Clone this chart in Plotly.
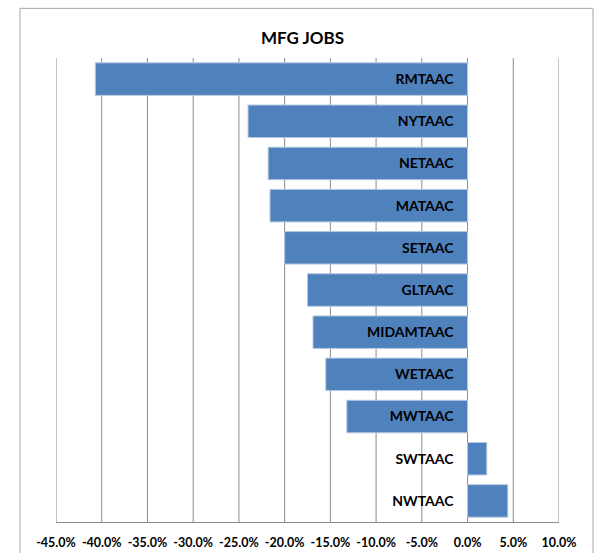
import plotly.graph_objects as go

# Manufacturing jobs change by TAAC region (percent)
regions = ["RMTAAC", "NYTAAC", "NETAAC", "MATAAC", "SETAAC", "GLTAAC",
           "MIDAMTAAC", "WETAAC", "MWTAAC", "SWTAAC", "NWTAAC"]
changes = [-40.7, -24.0, -21.8, -21.6, -20.0, -17.5, -16.9, -15.5, -13.2, 2.1, 4.4]

x_ticks = [-45, -40, -35, -30, -25, -20, -15, -10, -5, 0, 5, 10]
x_tick_labels = [f"{v:.1f}%" for v in x_ticks]

FONT = "Lato"
GRID = "#8C8C8C"
HEIGHT = 553

x_min, x_max = -45, 10

fig = go.Figure(
    go.Bar(
        x=changes,
        y=regions,
        orientation="h",
        marker=dict(color="#4F81BD", line=dict(color="#B4C8E2", width=1)),
        hoverinfo="x+y",
    )
)

# vertical gridlines at every tick, including both ends of the range
grid_shapes = [
    dict(
        type="line",
        xref="x",
        yref="paper",
        x0=v,
        x1=v,
        y0=0,
        y1=1,
        line=dict(color=GRID, width=1),
        layer="below",
    )
    for v in x_ticks
]

frame = dict(
    type="rect",
    xref="paper",
    yref="paper",
    x0=-0.0716,
    x1=1.0676,
    y0=-0.12,
    y1=1.107,
    line=dict(color="#A6A6A6", width=1),
    fillcolor="rgba(0,0,0,0)",
    layer="below",
)

fig.update_layout(
    width=597,
    height=HEIGHT,
    margin=dict(l=56, r=38, t=58, b=31),
    paper_bgcolor="white",
    plot_bgcolor="white",
    showlegend=False,
    bargap=0.23,
    title=dict(
        text="MFG JOBS",
        x=0.49,
        xref="paper",
        xanchor="center",
        y=1 - 38 / HEIGHT,
        yref="container",
        yanchor="middle",
        font=dict(family=FONT, size=17, color="black", weight="bold"),
    ),
    xaxis=dict(
        range=[x_min, x_max],
        tickvals=x_ticks,
        ticktext=x_tick_labels,
        tickangle=0,
        automargin=False,
        showgrid=False,
        zeroline=False,
        showline=True,
        linecolor=GRID,
        linewidth=1,
        ticks="",
        ticklabelstandoff=9,
        tickfont=dict(family=FONT, size=12.5, color="black", weight="bold"),
        fixedrange=True,
    ),
    yaxis=dict(
        categoryorder="array",
        categoryarray=regions,
        autorange="reversed",
        anchor="free",
        position=(0 - x_min) / (x_max - x_min),
        automargin=False,
        showgrid=False,
        zeroline=False,
        showline=False,
        ticks="",
        ticklabelstandoff=14,
        tickfont=dict(family=FONT, size=14, color="black", weight="bold"),
        fixedrange=True,
    ),
    shapes=[frame] + grid_shapes,
)

fig.write_html("out.html")
